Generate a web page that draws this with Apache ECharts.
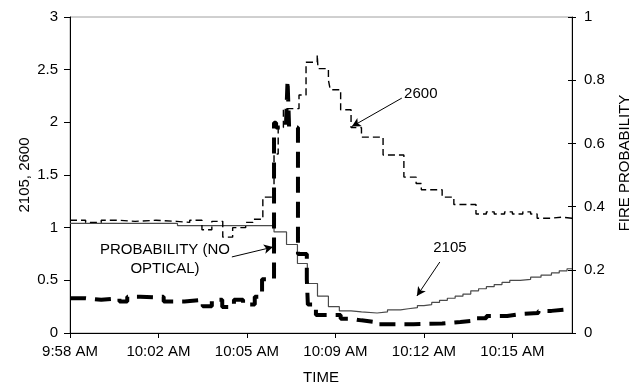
<!DOCTYPE html>
<html>
<head>
<meta charset="utf-8">
<script src="https://cdn.jsdelivr.net/npm/echarts@6/dist/echarts.min.js"></script>
<style>
  html, body { margin: 0; padding: 0; background: #fff; }
  #chart { width: 636px; height: 388px; }
</style>
</head>
<body>
<div id="chart"></div>
<script>
// x values are minutes after the first labelled tick (9:58 AM)
const timeLabels = ['9:58 AM', '10:02 AM', '10:05 AM', '10:09 AM', '10:12 AM', '10:15 AM']
const tickStep = 3.4
const xEnd = 19.29

// [minute, value] change points, drawn as steps
const s2600 = [
  [0, 1.07], [0.6, 1.05], [1.2, 1.07], [1.9, 1.06], [2.5, 1.07], [3.3, 1.06], [4.1, 1.05],
  [4.6, 1.07], [5.07, 0.98], [5.45, 1.06], [5.87, 0.91], [6.25, 1.0], [6.75, 1.05], [7.03, 1.08],
  [7.41, 1.29], [7.84, 1.7], [8.0, 1.95], [8.2, 2.13], [8.8, 2.26], [9.07, 2.57], [9.5, 2.64],
  [9.53, 2.51], [9.93, 2.4], [10.0, 2.31], [10.4, 2.12], [10.8, 1.95], [11.2, 1.86], [12.03, 1.69],
  [12.83, 1.48], [13.3, 1.42], [13.5, 1.36], [14.3, 1.29], [14.75, 1.22], [15.6, 1.13], [16.0, 1.15],
  [16.3, 1.13], [16.7, 1.15], [17.0, 1.13], [17.4, 1.15], [17.7, 1.13], [17.95, 1.09], [18.5, 1.1],
  [18.9, 1.09], [19.29, 1.1]
]
const s2105 = [
  [0, 1.04], [4.13, 1.02], [7.84, 0.96], [8.32, 0.84], [8.74, 0.66], [9.12, 0.47], [9.51, 0.35],
  [9.93, 0.25], [10.35, 0.21], [10.8, 0.2], [11.2, 0.19], [11.8, 0.2], [12.2, 0.22], [12.7, 0.23],
  [13.0, 0.24], [13.35, 0.26], [13.6, 0.27], [13.9, 0.29], [14.2, 0.31], [14.5, 0.33], [14.8, 0.35],
  [15.1, 0.37], [15.4, 0.4], [15.7, 0.42], [16.0, 0.44], [16.3, 0.46], [16.6, 0.48], [16.9, 0.5],
  [17.3, 0.51], [17.7, 0.53], [18.1, 0.55], [18.5, 0.57], [18.8, 0.59], [19.1, 0.61], [19.29, 0.61]
]
const probability = [
  [0, 0.11], [0.6, 0.105], [1.2, 0.11], [1.9, 0.1], [2.2, 0.115], [2.7, 0.113], [3.3, 0.115],
  [3.6, 0.1], [4.4, 0.105], [5.1, 0.085], [5.45, 0.105], [5.85, 0.082], [6.3, 0.105], [6.65, 0.09],
  [7.1, 0.115], [7.38, 0.17], [7.84, 0.665], [7.92, 0.65], [8.3, 0.66], [8.36, 0.8], [8.42, 0.65],
  [8.76, 0.25], [9.1, 0.17], [9.14, 0.09], [9.45, 0.057], [10.4, 0.045], [10.8, 0.04], [11.2, 0.035],
  [11.7, 0.028], [13.2, 0.03], [14.3, 0.035], [15.0, 0.04], [15.6, 0.047], [16.0, 0.054],
  [16.8, 0.06], [17.3, 0.063], [18.0, 0.07], [18.5, 0.076], [19.29, 0.076]
]

// callouts, in left-axis coordinates
const calloutText = [
  { name: '2600', coord: [13.48, 2.27] },
  { name: '2105', coord: [14.6, 0.807] },
  { name: 'PROBABILITY (NO\nOPTICAL)', coord: [3.65, 0.698] }
]
const calloutArrows = [
  [[12.75, 2.23], [10.83, 1.96]],
  [[14.21, 0.674], [13.33, 0.351]],
  [[6.22, 0.722], [7.8, 0.816]]
]

const font = '"Liberation Sans", Arial, sans-serif'
const fs = 15
const chart = echarts.init(document.getElementById('chart'))

const option = {
  animation: false,
  textStyle: { fontFamily: font },
  grid: {
    left: 70, right: 64, top: 17, bottom: 55,
    outerBoundsMode: 'none',
    show: true, borderColor: '#a0a0a0', borderWidth: 1
  },
  xAxis: {
    type: 'value',
    min: 0,
    max: xEnd,
    interval: tickStep,
    name: 'TIME',
    nameLocation: 'middle',
    nameGap: 37,
    nameTextStyle: { color: '#000', fontSize: fs, fontFamily: font },
    axisLine: { lineStyle: { color: '#000' } },
    axisTick: { length: 5, lineStyle: { color: '#000' } },
    axisLabel: {
      color: '#000',
      fontSize: fs,
      margin: 11,
      showMaxLabel: false,
      formatter: (v) => timeLabels[Math.round(v / tickStep)] || ''
    },
    splitLine: { show: false }
  },
  yAxis: [
    {
      type: 'value',
      position: 'left',
      min: 0,
      max: 3,
      interval: 0.5,
      name: '2105, 2600',
      nameLocation: 'middle',
      nameRotate: 90,
      nameGap: 38,
      nameMoveOverlap: false,
      nameTextStyle: { color: '#000', fontSize: fs, fontFamily: font },
      axisLine: { show: true, lineStyle: { color: '#000' } },
      axisTick: { show: true, length: 6, lineStyle: { color: '#000' } },
      axisLabel: { color: '#000', fontSize: fs, margin: 12 },
      splitLine: { show: false }
    },
    {
      type: 'value',
      position: 'right',
      min: 0,
      max: 1,
      interval: 0.2,
      name: 'FIRE PROBABILITY',
      nameLocation: 'middle',
      nameRotate: 90,
      nameGap: 45,
      nameTextStyle: { color: '#000', fontSize: fs, fontFamily: font, padding: [0, 0, 0, 24] },
      axisLine: { show: true, lineStyle: { color: '#000' } },
      axisTick: { show: true, length: 4, lineStyle: { color: '#000' } },
      axisLabel: { color: '#000', fontSize: fs, margin: 12 },
      splitLine: { show: false }
    },
    {
      // inner half of the crossing ticks on the right axis
      type: 'value',
      position: 'right',
      min: 0,
      max: 1,
      interval: 0.2,
      axisLine: { show: false },
      axisTick: { show: true, inside: true, length: 4, lineStyle: { color: '#000' } },
      axisLabel: { show: false },
      splitLine: { show: false }
    }
  ],
  series: [
    {
      name: '2105',
      type: 'line',
      yAxisIndex: 0,
      step: 'end',
      symbol: 'none',
      data: s2105,
      lineStyle: { color: '#4a4a4a', width: 1.2 }
    },
    {
      name: '2600',
      type: 'line',
      yAxisIndex: 0,
      step: 'end',
      symbol: 'none',
      data: s2600,
      lineStyle: { color: '#000', width: 1.4, type: [7, 4] },
      markLine: {
        silent: true,
        symbol: ['none', 'arrow'],
        symbolSize: [7, 9],
        lineStyle: { type: 'solid', color: '#000', width: 1 },
        label: { show: false },
        data: calloutArrows.map(([a, b]) => [{ coord: a }, { coord: b }])
      },
      markPoint: {
        silent: true,
        symbol: 'rect',
        symbolSize: 1,
        itemStyle: { color: 'rgba(0,0,0,0)' },
        label: {
          show: true,
          position: 'inside',
          color: '#000',
          fontSize: fs,
          lineHeight: 19,
          fontFamily: font,
          formatter: (p) => p.name
        },
        data: calloutText
      }
    },
    {
      name: 'FIRE PROBABILITY',
      type: 'line',
      yAxisIndex: 1,
      step: 'end',
      symbol: 'none',
      data: probability,
      lineStyle: { color: '#000', width: 4, type: [16, 9] }
    }
  ]
}

chart.setOption(option)
</script>
</body>
</html>
